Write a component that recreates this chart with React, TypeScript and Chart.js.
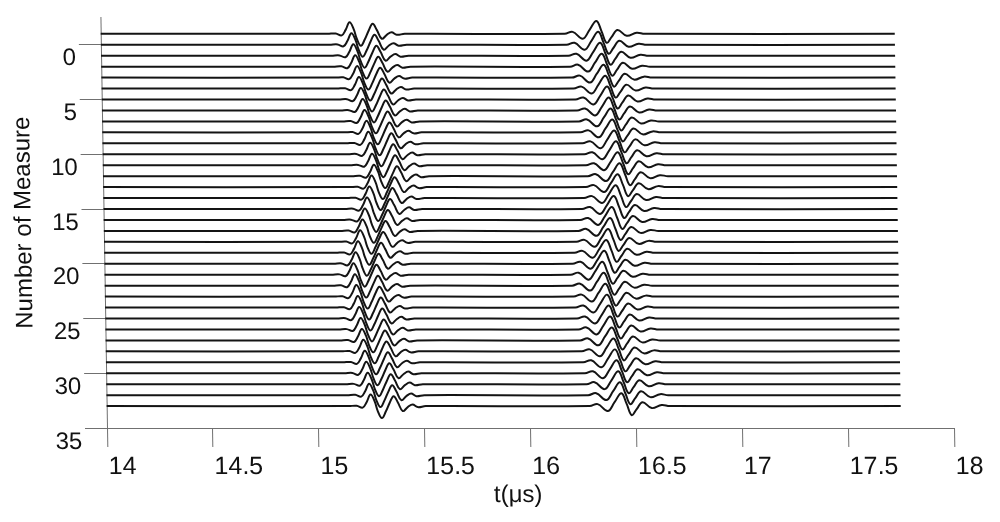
import React, { useEffect, useRef } from 'react';
import { Chart, registerables } from 'chart.js';

Chart.register(...registerables);

// ---- data ----
const MEASURES = [-1, 0, 1, 2, 3, 4, 5, 6, 7, 8, 9, 10, 11, 12, 13, 14, 15, 16, 17, 18, 19, 20, 21, 22, 23, 24, 25, 26, 27, 28, 29, 30, 31, 32, 33];
const X_TICKS = [14, 14.5, 15, 15.5, 16, 16.5, 17, 17.5, 18];
const Y_TICKS = [0, 5, 10, 15, 20, 25, 30, 35];
const TRACE_START = 14.0;
const TRACE_END = 17.75;

// time (µs) of the main peak of the first and second wave packet, per measure
const ARRIVAL_1 = [15.176, 15.184, 15.192, 15.200, 15.208, 15.216, 15.224, 15.232, 15.240, 15.248, 15.256, 15.264, 15.272, 15.280, 15.268, 15.257, 15.245, 15.234, 15.222, 15.210, 15.199, 15.187, 15.176, 15.182, 15.188, 15.194, 15.200, 15.206, 15.211, 15.217, 15.223, 15.229, 15.235, 15.241, 15.247];
const ARRIVAL_2 = [16.342, 16.350, 16.358, 16.365, 16.373, 16.380, 16.388, 16.395, 16.403, 16.410, 16.418, 16.426, 16.433, 16.441, 16.431, 16.421, 16.411, 16.401, 16.392, 16.382, 16.372, 16.362, 16.352, 16.358, 16.365, 16.372, 16.379, 16.385, 16.392, 16.399, 16.405, 16.412, 16.419, 16.426, 16.432];

// pulse shapes: time offset from main peak (µs) and amplitude (in trace spacings)
const PULSE1_DT = [-0.104, -0.066, -0.038, -0.019, 0, 0.019, 0.033, 0.052, 0.071, 0.090, 0.109, 0.128, 0.151, 0.175, 0.198, 0.222, 0.260];
const PULSE1_AMP = [0, 0.03, -0.14, 0.36, 1.05, 0.43, -0.45, -1.09, -0.5, 0.3, 0.91, 0.36, -0.45, -0.09, 0.15, -0.09, 0];
const PULSE2_DT = [-0.151, -0.113, -0.066, -0.033, 0, 0.024, 0.047, 0.071, 0.099, 0.142, 0.189, 0.227];
const PULSE2_AMP = [0, 0.18, -0.45, 0.36, 1.18, 0.2, -0.82, -0.27, 0.36, -0.18, 0.09, 0];

const FONT = '"Liberation Sans", Arial, sans-serif';
const SKEW = 0.016;

const skewPlugin = {
  id: 'skew',
  beforeDraw(chart: any) {
    const { ctx, chartArea } = chart;
    ctx.save();
    ctx.transform(1, 0, SKEW, 1, -SKEW * chartArea.bottom, 0);
  },
  afterDraw(chart: any) {
    chart.ctx.restore();
  },
};

export default function App() {
  const ref = useRef<HTMLCanvasElement>(null);

  useEffect(() => {
    if (!ref.current) return;
    const datasets = MEASURES.map((m, i) => {
      const pts: { x: number; y: number }[] = [{ x: TRACE_START, y: m }];
      PULSE1_DT.forEach((dt, j) => pts.push({ x: ARRIVAL_1[i] + dt, y: m - PULSE1_AMP[j] }));
      PULSE2_DT.forEach((dt, j) => pts.push({ x: ARRIVAL_2[i] + dt, y: m - PULSE2_AMP[j] }));
      pts.push({ x: TRACE_END, y: m });
      return {
        label: 'Measure ' + m,
        data: pts,
        borderColor: '#141414',
        borderWidth: 2,
        pointRadius: 0,
        tension: 0.4,
        fill: false,
        clip: false as any,
      };
    });

    const chart = new Chart(ref.current, {
      type: 'line',
      data: { datasets },
      plugins: [skewPlugin],
      options: {
        animation: false,
        responsive: false,
        maintainAspectRatio: false,
        devicePixelRatio: 1,
        layout: { padding: { top: 15, right: 46, left: 0, bottom: 0 } },
        plugins: { legend: { display: false }, tooltip: { enabled: false } },
        scales: {
          x: {
            type: 'linear',
            min: 14,
            max: 18,
            afterBuildTicks: (s: any) => { s.ticks = X_TICKS.map((v) => ({ value: v })); },
            afterFit: (s: any) => { s.height = 94; },
            ticks: {
              font: { family: FONT, size: 25 },
              color: '#111',
              padding: 5,
              align: 'start',
              labelOffset: 1,
              maxRotation: 0,
              callback: (v: any) => String(v),
            },
            grid: { drawOnChartArea: false, drawTicks: true, tickLength: 19, color: '#707070', lineWidth: 1 },
            border: { display: true, color: '#707070', width: 1 },
            title: {
              display: true,
              text: 't(μs)    ',
              font: { family: FONT, size: 24 },
              color: '#111',
              padding: { top: 0, bottom: 12 },
            },
          },
          y: {
            type: 'linear',
            min: -2.5,
            max: 35,
            reverse: true,
            afterBuildTicks: (s: any) => { s.ticks = Y_TICKS.map((v) => ({ value: v })); },
            afterFit: (s: any) => { s.width = 107; },
            ticks: {
              font: { family: FONT, size: 24 },
              color: '#111',
              padding: 3,
              labelOffset: 14,
            },
            grid: { drawOnChartArea: false, drawTicks: true, tickLength: 22, color: '#707070', lineWidth: 1 },
            border: { display: true, color: '#707070', width: 1 },
            title: {
              display: true,
              text: 'Number of Measure',
              font: { family: FONT, size: 24 },
              color: '#111',
              padding: { top: 13, bottom: 0 },
            },
          },
        },
      },
    });
    return () => chart.destroy();
  }, []);

  return (
    <div style={{ position: 'fixed', left: 0, top: 0, width: 1000, height: 522, background: '#fff' }}>
      <canvas ref={ref} width={1000} height={522} style={{ display: 'block', width: 1000, height: 522 }} />
    </div>
  );
}
